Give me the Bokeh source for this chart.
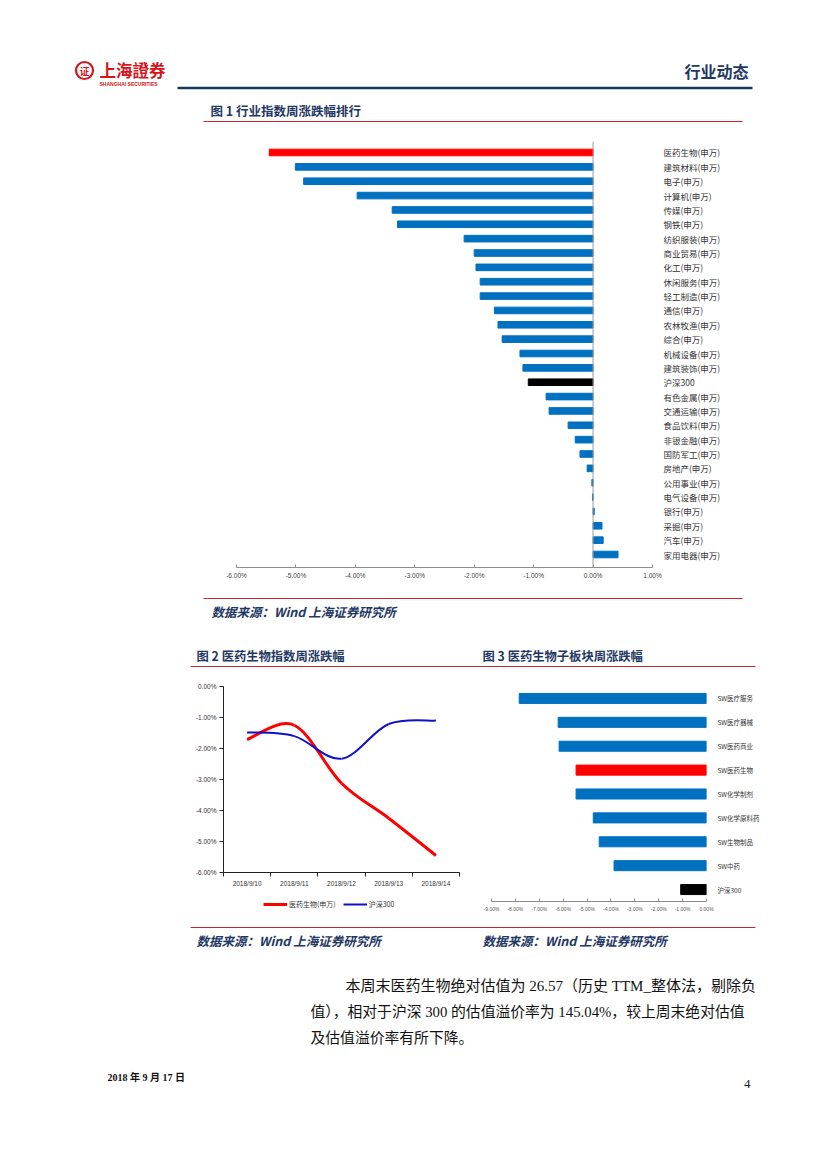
from bokeh.plotting import figure
from bokeh.layouts import column, row
from bokeh.models import (Range1d, FixedTicker, NumeralTickFormatter, LinearAxis,
                          Span, Legend, LegendItem, ColumnDataSource, Spacer)
from bokeh.core.properties import value
from bokeh.embed import file_html
from bokeh.resources import INLINE

# ---------------- data ----------------
industries = ["医药生物(申万)", "建筑材料(申万)", "电子(申万)", "计算机(申万)", "传媒(申万)",
              "钢铁(申万)", "纺织服装(申万)", "商业贸易(申万)", "化工(申万)", "休闲服务(申万)",
              "轻工制造(申万)", "通信(申万)", "农林牧渔(申万)", "综合(申万)", "机械设备(申万)",
              "建筑装饰(申万)", "沪深300", "有色金属(申万)", "交通运输(申万)", "食品饮料(申万)",
              "非银金融(申万)", "国防军工(申万)", "房地产(申万)", "公用事业(申万)", "电气设备(申万)",
              "银行(申万)", "采掘(申万)", "汽车(申万)", "家用电器(申万)"]
industry_chg = [-5.45, -5.01, -4.87, -3.97, -3.38, -3.29, -2.17, -2.00, -1.97, -1.90,
                -1.90, -1.66, -1.60, -1.53, -1.23, -1.18, -1.09, -0.79, -0.74, -0.42,
                -0.30, -0.22, -0.10, -0.02, -0.01, 0.02, 0.15, 0.17, 0.42]
rank_ticks = [-6, -5, -4, -3, -2, -1, 0, 1]

dates = ["2018/9/10", "2018/9/11", "2018/9/12", "2018/9/13", "2018/9/14"]
pharma_cum = [-1.71, -1.25, -3.12, -4.25, -5.45]
hs300_cum = [-1.48, -1.60, -2.33, -1.21, -1.10]
line_ticks = [-6, -5, -4, -3, -2, -1, 0]

sub_sectors = ["SW医疗服务", "SW医疗器械", "SW医药商业", "SW医药生物", "SW化学制剂",
               "SW化学原料药", "SW生物制品", "SW中药", "沪深300"]
sub_chg = [-7.84, -6.21, -6.17, -5.46, -5.46, -4.74, -4.49, -3.87, -1.08]
sub_ticks = [-9, -8, -7, -6, -5, -4, -3, -2, -1, 0]

BLUE = "#0070C0"
RED = "#FF0000"
BLACK = "#000000"
NAVY = "#1F3864"
RULE_RED = "#C8262E"
CJK = "Noto Sans CJK SC"
PAGE_W = 827


def bar_color(name):
    if name.startswith("医药生物") or name == "SW医药生物":
        return RED
    if name == "沪深300":
        return BLACK
    return BLUE


def canvas(y0, y1, x0=0, x1=PAGE_W):
    p = figure(width=x1 - x0, height=y1 - y0, x_range=Range1d(x0, x1), y_range=Range1d(y1, y0),
               output_backend="svg", toolbar_location=None, min_border=0,
               x_axis_type=None, y_axis_type=None, frame_align=False)
    p.grid.visible = False
    p.outline_line_color = None
    return p


def txt(p, x, y, s, size, color, font=CJK, style="normal", align="left", baseline="middle"):
    p.text(x=[x], y=[y], text=[s], text_font=value(font), text_font_size=f"{size}px",
           text_color=color, text_font_style=style, text_align=align, text_baseline=baseline)


# ---------------- header canvas ----------------
hdr = canvas(0, 133)
hdr.scatter(x=[84], y=[70], size=17, marker="circle", fill_color=None, line_color="#D7141A", line_width=2.2)
txt(hdr, 84, 70.5, "证", 9.5, "#D7141A", style="bold", align="center")
txt(hdr, 99, 69.5, "上海證券", 16.5, "#D7141A", style="bold")
txt(hdr, 99, 83, "SHANGHAI SECURITIES", 5, "#D7141A", font="Liberation Sans", style="bold")
hdr.segment(x0=[177], y0=[87.5], x1=[752], y1=[87.5], line_color="#17375E", line_width=2.5)
txt(hdr, 748, 70, "行业动态", 16, NAVY, style="bold", align="right")
txt(hdr, 210, 110, "图 1 行业指数周涨跌幅排行", 12.5, NAVY, style="bold")
hdr.segment(x0=[203], y0=[121], x1=[742], y1=[121], line_color=RULE_RED, line_width=1)

# ---------------- chart 1: ranking ----------------
n1 = len(industries)
src1 = ColumnDataSource(dict(y=list(range(n1)), right=[v / 100 for v in industry_chg],
                             color=[bar_color(c) for c in industries]))
c1 = figure(width=PAGE_W, height=459, x_range=Range1d(rank_ticks[0] / 100, rank_ticks[-1] / 100),
            y_range=Range1d(28.905, -0.766), output_backend="svg", toolbar_location=None,
            min_border_left=236, min_border_right=175, min_border_top=8, min_border_bottom=25,
            y_axis_location=None, frame_align=False)
c1.grid.visible = False
c1.outline_line_color = None
c1.hbar(y="y", left=0, right="right", height=0.46, color="color", source=src1)
c1.add_layout(Span(location=0, dimension="height", line_color="#9A9A9A", line_width=1))
xa = c1.xaxis[0]
xa.ticker = FixedTicker(ticks=[t / 100 for t in rank_ticks])
xa.formatter = NumeralTickFormatter(format="0.00%")
xa.major_tick_in = 3
xa.major_tick_out = 0
xa.minor_tick_line_color = None
xa.axis_line_color = "#8C8C8C"
xa.major_tick_line_color = "#8C8C8C"
xa.major_label_text_font_size = "6.5px"
xa.major_label_text_color = "#444444"
xa.major_label_text_font = "Liberation Sans"
xa.major_label_standoff = 4
ra = LinearAxis(ticker=FixedTicker(ticks=list(range(n1))),
                major_label_overrides={i: s for i, s in enumerate(industries)})
ra.axis_line_color = None
ra.major_tick_line_color = None
ra.minor_tick_line_color = None
ra.major_label_text_font = CJK
ra.major_label_text_font_size = "8.5px"
ra.major_label_text_color = "#333333"
ra.major_label_standoff = 5
c1.add_layout(ra, "right")

# ---------------- middle canvas ----------------
mid = canvas(592, 680)
mid.segment(x0=[203], y0=[598], x1=[742], y1=[598], line_color=RULE_RED, line_width=1)
txt(mid, 211, 610.5, "数据来源：Wind  上海证券研究所", 12.5, NAVY, style="bold italic")
txt(mid, 196, 655, "图 2 医药生物指数周涨跌幅", 12.3, NAVY, style="bold")
txt(mid, 482, 655, "图 3 医药生物子板块周涨跌幅", 12.3, NAVY, style="bold")
mid.segment(x0=[190], y0=[666], x1=[755], y1=[666], line_color=RULE_RED, line_width=1)

# ---------------- chart 2: cumulative line ----------------
c2 = figure(width=290, height=210, x_range=Range1d(-0.5, len(dates) - 0.5),
            y_range=Range1d(line_ticks[0] / 100, line_ticks[-1] / 100),
            output_backend="svg", toolbar_location=None, frame_align=False,
            min_border_left=42, min_border_right=12, min_border_top=6, min_border_bottom=18)
c2.grid.visible = False
c2.outline_line_color = None


def smooth(p, xs, ys, color, width):
    n = len(xs)
    P = list(zip(xs, ys))
    seg = dict(x0=[], y0=[], x1=[], y1=[], cx0=[], cy0=[], cx1=[], cy1=[])
    for i in range(n - 1):
        pm = P[max(i - 1, 0)]
        p0 = P[i]
        p1 = P[i + 1]
        p2 = P[min(i + 2, n - 1)]
        seg["x0"].append(p0[0]); seg["y0"].append(p0[1])
        seg["x1"].append(p1[0]); seg["y1"].append(p1[1])
        seg["cx0"].append(p0[0] + (p1[0] - pm[0]) / 6); seg["cy0"].append(p0[1] + (p1[1] - pm[1]) / 6)
        seg["cx1"].append(p1[0] - (p2[0] - p0[0]) / 6); seg["cy1"].append(p1[1] - (p2[1] - p0[1]) / 6)
    p.bezier(source=ColumnDataSource(seg), line_color=color, line_width=width)


xi = list(range(len(dates)))
smooth(c2, xi, [v / 100 for v in pharma_cum], "#FF0000", 3)
smooth(c2, xi, [v / 100 for v in hs300_cum], "#1010C8", 2)

ya2 = c2.yaxis[0]
ya2.ticker = FixedTicker(ticks=[t / 100 for t in line_ticks])
ya2.formatter = NumeralTickFormatter(format="0.00%")
ya2.major_tick_out = 4
ya2.major_tick_in = 0
ya2.minor_tick_line_color = None
xa2 = c2.xaxis[0]
xa2.ticker = FixedTicker(ticks=xi, minor_ticks=[i - 0.5 for i in range(len(dates) + 1)])
xa2.major_label_overrides = {i: d for i, d in enumerate(dates)}
xa2.major_tick_in = 0
xa2.major_tick_out = 0
xa2.minor_tick_in = 0
xa2.minor_tick_out = 4
for ax in (ya2, xa2):
    ax.axis_line_color = "#222222"
    ax.major_tick_line_color = "#222222"
    ax.major_label_text_font_size = "6.5px"
    ax.major_label_text_color = "#333333"
    ax.major_label_text_font = "Liberation Sans"
    ax.major_label_standoff = 3
xa2.minor_tick_line_color = "#222222"

# legend strip under chart 2 (legend renderers sit outside the strip's visible range)
lg = figure(width=290, height=30, x_range=Range1d(0, 1), y_range=Range1d(0, 1),
            output_backend="svg", toolbar_location=None, min_border=0,
            x_axis_type=None, y_axis_type=None, frame_align=False)
lg.grid.visible = False
lg.outline_line_color = None
r_red = lg.line(x=[5, 6], y=[5, 6], line_color="#FF0000", line_width=3)
r_blue = lg.line(x=[5, 6], y=[5, 6], line_color="#1010C8", line_width=2)
leg = Legend(items=[LegendItem(label="医药生物(申万)", renderers=[r_red]),
                    LegendItem(label="沪深300", renderers=[r_blue])],
             orientation="horizontal", label_text_font=CJK, label_text_font_size="7px",
             label_text_color="#333333", glyph_width=24, glyph_height=8, label_standoff=2,
             spacing=7, padding=2, margin=0, border_line_color=None, label_height=8,
             background_fill_alpha=0, location=(82, 11))
lg.add_layout(leg)

# ---------------- chart 3: sub-sectors ----------------
n3 = len(sub_sectors)
src3 = ColumnDataSource(dict(y=list(range(n3)), right=[v / 100 for v in sub_chg],
                             color=[bar_color(c) for c in sub_sectors]))
c3 = figure(width=346, height=240, x_range=Range1d(sub_ticks[0] / 100, sub_ticks[-1] / 100),
            y_range=Range1d(8.5, -0.5), output_backend="svg", toolbar_location=None,
            min_border_left=10, min_border_right=121, min_border_top=6, min_border_bottom=19,
            y_axis_location=None, frame_align=False)
c3.grid.visible = False
c3.outline_line_color = None
c3.hbar(y="y", left=0, right="right", height=0.42, color="color", source=src3)
xa3 = c3.xaxis[0]
xa3.ticker = FixedTicker(ticks=[t / 100 for t in sub_ticks])
xa3.formatter = NumeralTickFormatter(format="0.00%")
xa3.major_tick_in = 3
xa3.major_tick_out = 0
xa3.minor_tick_line_color = None
xa3.axis_line_color = "#8C8C8C"
xa3.major_tick_line_color = "#8C8C8C"
xa3.major_label_text_font_size = "5px"
xa3.major_label_text_color = "#555555"
xa3.major_label_text_font = "Liberation Sans"
xa3.major_label_standoff = 4
ra3 = LinearAxis(ticker=FixedTicker(ticks=list(range(n3))),
                 major_label_overrides={i: s for i, s in enumerate(sub_sectors)})
ra3.axis_line_color = None
ra3.major_tick_line_color = None
ra3.minor_tick_line_color = None
ra3.major_label_text_font = CJK
ra3.major_label_text_font_size = "6.5px"
ra3.major_label_text_color = "#333333"
ra3.major_label_standoff = 5
c3.add_layout(ra3, "right")

# ---------------- bottom canvas ----------------
bot = canvas(920, 1165)
bot.segment(x0=[190], y0=[927], x1=[755], y1=[927], line_color=RULE_RED, line_width=1)
txt(bot, 196, 939.5, "数据来源：Wind 上海证券研究所", 12.5, NAVY, style="bold italic")
txt(bot, 482, 939.5, "数据来源：Wind 上海证券研究所", 12.5, NAVY, style="bold italic")
PFONT = "'Liberation Serif', 'Noto Sans CJK SC'"
txt(bot, 345, 985, "本周末医药生物绝对估值为 26.57（历史 TTM_整体法，剔除负", 15, "#111111", font=PFONT)
txt(bot, 310, 1011, "值），相对于沪深 300 的估值溢价率为 145.04%，较上周末绝对估值", 14.8, "#111111", font=PFONT)
txt(bot, 310, 1037, "及估值溢价率有所下降。", 14.8, "#111111", font=PFONT)
txt(bot, 107, 1077, "2018 年 9 月 17 日", 10, "#111111", font=PFONT, style="bold")
txt(bot, 750, 1083, "4", 13, "#222222", font="Liberation Serif", align="right")

layout = column(hdr, c1, mid,
                row(Spacer(width=181, height=240), column(c2, lg), Spacer(width=10, height=240), c3),
                bot)

open("out.html", "w").write(file_html(layout, INLINE))
